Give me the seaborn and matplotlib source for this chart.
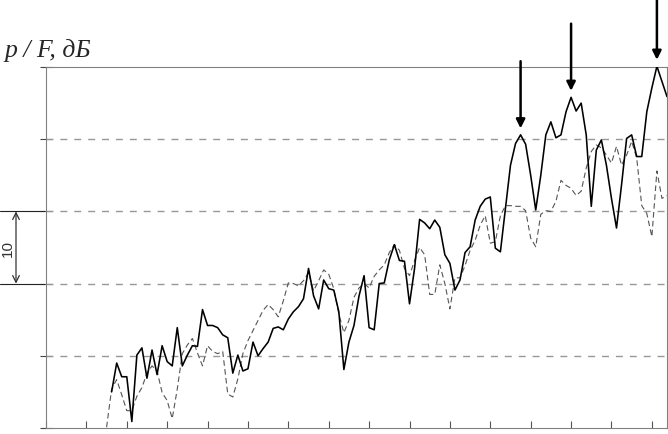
import numpy as np
import pandas as pd
import matplotlib
matplotlib.use("Agg")
import matplotlib.pyplot as plt
import seaborn as sns
from matplotlib.transforms import blended_transform_factory
from matplotlib.lines import Line2D

# ---- data (dB values, sample index on x) ----
solid_start = 13
solid_db = [
    5.0, 9.0, 7.1, 7.1, 0.9, 10.1, 11.1, 6.9, 10.8, 7.4,
    11.4, 9.2, 8.6, 13.9, 8.6, 10.1, 11.4, 11.3, 16.4, 14.2,
    14.2, 13.9, 12.9, 12.5, 7.6, 10.1, 7.9, 8.2, 11.9, 10.0,
    11.0, 11.9, 13.8, 14.0, 13.6, 15.1, 16.1, 16.8, 17.9, 22.1,
    18.3, 16.5, 20.5, 19.3, 19.1, 16.1, 8.1, 11.9, 14.2, 18.3,
    21.1, 13.9, 13.6, 20.0, 20.1, 23.3, 25.4, 23.2, 23.1, 17.2,
    22.1, 28.9, 28.4, 27.6, 28.8, 27.8, 24.0, 22.8, 19.1, 20.5,
    24.3, 25.1, 28.8, 30.7, 31.7, 32.0, 24.9, 24.4, 30.4, 36.4,
    39.4, 40.6, 39.3, 35.0, 30.2, 35.0, 40.6, 42.4, 40.2, 40.6,
    43.8, 45.8, 43.9, 45.0, 40.6, 30.7, 38.5, 39.9, 36.4, 31.8,
    27.7, 33.7, 40.1, 40.6, 37.6, 37.6, 43.8, 47.1, 50.1, 48.0,
    45.9,
]
dashed_start = 12
dashed_db = [
    0.1, 5.4, 6.7, 4.6, 2.4, 2.4, 4.4, 5.6, 7.6, 8.6,
    7.9, 4.9, 3.8, 1.3, 5.4, 10.3, 11.5, 12.4, 10.4, 8.6,
    11.4, 10.6, 10.3, 10.6, 4.7, 4.3, 6.8, 10.3, 12.1, 13.5,
    14.9, 16.3, 17.1, 16.4, 15.4, 17.6, 20.1, 20.0, 19.7, 20.4,
    21.5, 19.0, 20.4, 21.9, 21.3, 19.3, 15.8, 13.2, 14.9, 18.1,
    19.4, 20.0, 19.4, 21.0, 21.9, 22.6, 24.3, 25.4, 24.6, 22.1,
    21.1, 23.2, 25.0, 24.0, 18.5, 18.5, 22.6, 20.0, 16.5, 20.8,
    20.8, 22.5, 24.6, 26.0, 28.1, 29.4, 25.6, 25.8, 29.4, 30.8,
    30.8, 30.7, 30.7, 30.1, 26.3, 25.1, 29.6, 30.1, 30.0, 31.4,
    34.3, 33.6, 33.2, 32.2, 32.8, 36.0, 38.3, 39.2, 38.8, 37.8,
    36.7, 39.0, 36.4, 37.8, 39.7, 37.4, 30.8, 29.7, 26.5, 35.6,
    31.8, 32.2,
]
peak_idx = [94, 104, 121]
grid_levels = [10, 20, 30, 40]
y_ticks = [0, 10, 20, 30, 40, 50]
scale_bar = (20, 30)
scale_label = "10"
y_label = "p / F, дБ"

solid = pd.DataFrame({"i": np.arange(solid_start, solid_start + len(solid_db)),
                      "db": solid_db})
dashed = pd.DataFrame({"i": np.arange(dashed_start, dashed_start + len(dashed_db)),
                       "db": dashed_db})

sns.set_style("white")
plt.rcParams["font.family"] = ["DejaVu Sans"]

W, H = 668, 435
fig = plt.figure(figsize=(W / 100, H / 100), dpi=100)
ax = fig.add_axes([46 / W, 6 / H, 621 / W, 361 / H])

for lv in grid_levels:
    ax.axhline(lv, color="#989898", lw=1.0, linestyle=(0, (5, 5)), zorder=1)

sns.lineplot(data=dashed, x="i", y="db", ax=ax, color="#555555", lw=0.8,
             linestyle=(0, (5, 3)), zorder=2)
sns.lineplot(data=solid, x="i", y="db", ax=ax, color="black", lw=1.15, zorder=3)

ax.set_xlim(0, 123)
ax.set_ylim(0, 50)
ax.set_xticks(np.arange(0, 121, 8))
ax.set_yticks(y_ticks)
ax.set_xlabel("")
ax.set_ylabel("")
ax.tick_params(axis="x", bottom=True, direction="in", length=5, width=0.8,
               color="#555555", labelbottom=False)
ax.tick_params(axis="y", left=True, direction="inout", length=8, width=0.8,
               color="#444444", labelleft=False)
for s in ax.spines.values():
    s.set_visible(True)
    s.set_color("#808080")
    s.set_linewidth(0.8)

# arrows on peaks
sdict = dict(zip(solid["i"], solid["db"]))
for p in peak_idx:
    tip = sdict[p] + 0.9
    ax.annotate("", xy=(p, tip), xytext=(p, tip + 9.3),
                arrowprops=dict(arrowstyle="-|>", color="black", lw=1.8,
                                mutation_scale=13, shrinkA=0, shrinkB=0),
                annotation_clip=False)

# scale bar on the left
trans = blended_transform_factory(fig.transFigure, ax.transData)
for lv in scale_bar:
    fig.add_artist(Line2D([0, 44 / W], [lv, lv], transform=trans,
                          color="#222222", lw=0.8))
ax.annotate("", xy=(16 / W, scale_bar[1]), xytext=(16 / W, scale_bar[0]),
            xycoords=trans, textcoords=trans,
            arrowprops=dict(arrowstyle="<->", color="#333333", lw=0.9,
                            mutation_scale=12, shrinkA=0, shrinkB=0),
            annotation_clip=False)
fig.text(8 / W, sum(scale_bar) / 2, scale_label, transform=trans, rotation=90,
         ha="center", va="center", fontsize=11, color="#333333",
         family=["Liberation Sans", "DejaVu Sans"])

fig.text(5 / W, 1 - 57 / H, y_label, fontsize=18.5, style="italic",
         family=["Liberation Serif", "DejaVu Serif"], ha="left", va="baseline")

fig.savefig("out.png", dpi=100)
